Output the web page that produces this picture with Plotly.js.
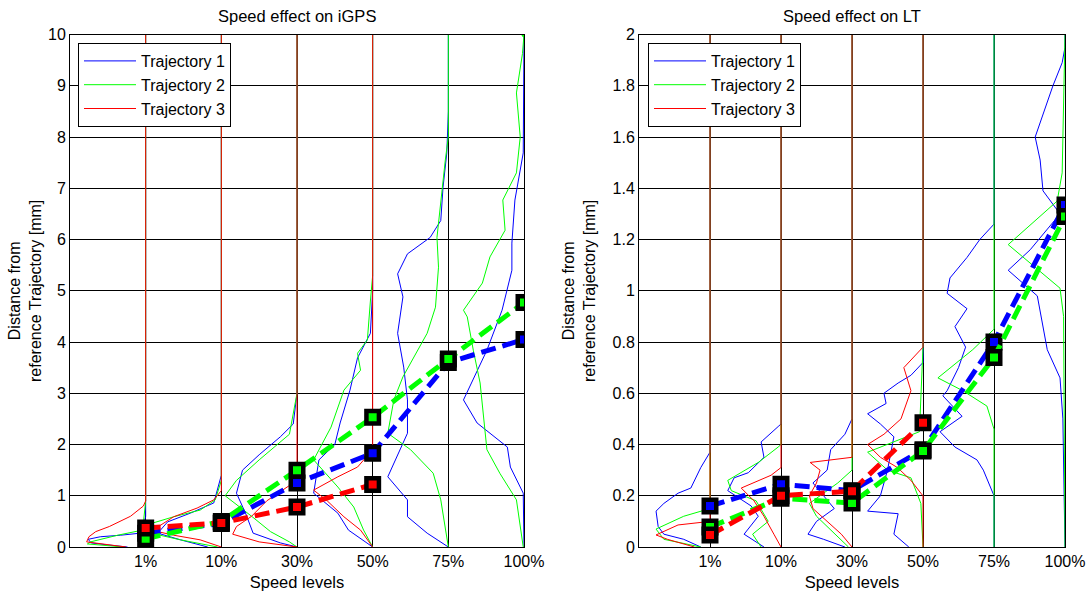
<!DOCTYPE html>
<html><head><meta charset="utf-8">
<script src="https://cdn.plot.ly/plotly-3.0.1.min.js"></script>
<style>html,body{margin:0;padding:0;background:#fff}#chart{width:1090px;height:594px}</style>
</head><body><div id="chart"></div>
<script>
// ---------- data ----------
const speedLevels = ['1%', '10%', '30%', '50%', '75%', '100%'];
const trajectoryNames = ['Trajectory 1', 'Trajectory 2', 'Trajectory 3'];

// mean distance per speed level [mm]
const iGPS_mean_t1 = [0.27, 0.46, 1.25, 1.83, 3.60, 4.05];
const iGPS_mean_t2 = [0.16, 0.50, 1.50, 2.53, 3.67, 4.77];
const iGPS_mean_t3 = [0.37, 0.47, 0.78, 1.22];
const LT_mean_t1 = [0.16, 0.245, 0.22, 0.38, 0.80, 1.335];
const LT_mean_t2 = [0.078, 0.19, 0.172, 0.375, 0.74, 1.29];
const LT_mean_t3 = [0.047, 0.20, 0.218, 0.485];

// distance distributions: per speed level, [distance, relative frequency] pairs
const iGPS_hist_t1 = [
  [[0.6,0],[0.47,0.02],[0.27,0.07],[0.23,0.33],[0.2,0.6],[0.15,0.76],[0.08,0.72],[0.04,0.5],[0,0.24]],
  [[1.4,0],[0.86,0.1],[0.66,0.41],[0.49,0.71],[0.27,0.84],[0.14,0.54],[0,0.18]],
  [[3.0,0],[2.4,0.05],[2.15,0.22],[1.8,0.5],[1.5,0.72],[1.05,0.8],[0.66,0.68],[0.27,0.58],[0.08,0.22],[0,0]],
  [[5.0,0],[4.17,0.03],[3.69,0.2],[3.06,0.3],[2.42,0.43],[2.0,0.5],[1.7,0.71],[1.05,0.78],[0.66,0.46],[0.33,0.32],[0,0]],
  [[8.5,0],[7.69,0.02],[7.02,0.07],[6.37,0.1],[6.04,0.24],[5.72,0.54],[5.33,0.67],[4.88,0.6],[4.17,0.67],[3.51,0.59],[2.87,0.54],[2.22,0.54],[1.37,0.8],[0.92,0.54],[0.59,0.54],[0.27,0.28],[0,0]],
  [[10,0],[7.69,0.01],[6.77,0.12],[5.93,0.16],[5.4,0.16],[4.62,0.29],[3.84,0.49],[2.87,0.8],[2.42,0.62],[1.95,0.22],[1.56,0.18],[1.05,0.01],[0,0]]
];
const iGPS_hist_t2 = [
  [[0.9,0],[0.33,0.04],[0.23,0.37],[0.1,0.73],[0.06,0.77],[0,0.29]],
  [[1.3,0],[0.92,0.08],[0.72,0.28],[0.59,0.63],[0.47,0.9],[0.27,0.93],[0.14,0.54],[0,0.05]],
  [[3.0,0],[2.2,0.1],[1.7,0.5],[1.3,0.8],[1.0,0.95],[0.6,0.6],[0.3,0.35],[0.1,0.1],[0,0]],
  [[5.3,0],[4.8,0.03],[4.04,0.07],[3.78,0.2],[3.45,0.16],[3.06,0.38],[2.34,0.55],[1.7,0.78],[1.17,0.46],[0.78,0.25],[0.33,0.12],[0,0]],
  [[8,0],[7.55,0.04],[7.16,0.07],[6.04,0.15],[5.46,0.13],[4.68,0.17],[4.17,0.28],[3.32,0.6],[2.87,0.72],[2.22,0.8],[1.9,0.5],[1.44,0.2],[0.92,0.1],[0,0]],
  [[10,0],[9.63,0.02],[8.86,0.1],[8.0,0.05],[7.3,0.1],[6.77,0.28],[6.18,0.25],[5.66,0.45],[5.15,0.55],[4.62,0.8],[4.49,0.75],[3.84,0.67],[3.2,0.58],[1.9,0.49],[1.44,0.32],[0.92,0.1],[0,0.01]]
];
const iGPS_hist_t3 = [
  [[0.9,0],[0.8,0.03],[0.6,0.2],[0.4,0.48],[0.3,0.66],[0.2,0.75],[0.1,0.78],[0,0.26]],
  [[1.1,0],[0.92,0.1],[0.76,0.32],[0.59,0.63],[0.39,0.84],[0.33,0.93],[0.23,0.63],[0.14,0.28],[0,0]],
  [[1.6,0],[1.2,0.1],[0.9,0.4],[0.6,0.6],[0.4,0.8],[0.25,0.85],[0.1,0.5],[0,0]],
  [[1.9,0],[1.56,0.2],[1.37,0.46],[1.11,0.78],[0.9,0.6],[0.59,0.38],[0.33,0.16],[0,0]]
];
const LT_hist_t1 = [
  [[0.37,0],[0.31,0.13],[0.23,0.27],[0.21,0.45],[0.17,0.65],[0.14,0.76],[0.08,0.73],[0.05,0.65],[0.03,0.37],[0,0.13]],
  [[0.48,0],[0.47,0.04],[0.41,0.28],[0.35,0.24],[0.29,0.46],[0.27,0.66],[0.22,0.75],[0.16,0.42],[0.12,0.32],[0.05,0.52],[0,0.24]],
  [[0.5,0],[0.44,0.1],[0.38,0.3],[0.3,0.35],[0.25,0.55],[0.2,0.4],[0.15,0.25],[0.1,0.5],[0.05,0.62],[0.03,0.4],[0,0.1]],
  [[0.72,0],[0.67,0.17],[0.64,0.35],[0.6,0.55],[0.56,0.52],[0.52,0.78],[0.48,0.6],[0.43,0.41],[0.3,0.5],[0.2,0.6],[0.14,0.78],[0.13,0.35],[0.05,0.41],[0,0.2]],
  [[1.26,0],[1.2,0.2],[1.13,0.38],[1.05,0.62],[0.99,0.66],[0.93,0.38],[0.86,0.55],[0.78,0.4],[0.7,0.5],[0.61,0.66],[0.59,0.72],[0.51,0.45],[0.45,0.76],[0.39,0.55],[0.34,0.24],[0.3,0.15],[0.2,0],[0,0]],
  [[1.95,0],[1.89,0.04],[1.8,0.17],[1.6,0.42],[1.51,0.35],[1.39,0.31],[1.3,0.07],[1.16,0.49],[1.08,0.8],[0.98,0.39],[0.77,0.25],[0.66,0.07],[0.5,0.03],[0,0]]
];
const LT_hist_t2 = [
  [[0.15,0],[0.12,0.37],[0.07,0.76],[0.03,0.65],[0,0.13]],
  [[0.4,0],[0.39,0.04],[0.33,0.32],[0.26,0.75],[0.22,0.7],[0.18,0.35],[0.1,0.18],[0.05,0.4],[0,0.28]],
  [[0.3,0],[0.25,0.2],[0.2,0.45],[0.17,0.6],[0.12,0.5],[0.08,0.35],[0.04,0.2],[0,0.05]],
  [[0.78,0],[0.45,0.05],[0.37,0.78],[0.3,0.5],[0.27,0.17],[0.17,0.03],[0,0]],
  [[0.85,0],[0.77,0.3],[0.66,0.79],[0.61,0.44],[0.55,0.1],[0.46,0],[0,0]],
  [[1.46,0.04],[1.35,0.11],[1.18,0.8],[1.01,0.07],[0.9,0.02],[0,0]]
];
const LT_hist_t3 = [
  [[0.1,0],[0.086,0.45],[0.047,0.76],[0.03,0.6],[0,0.22]],
  [[0.31,0],[0.28,0.14],[0.23,0.56],[0.18,0.38],[0.12,0.24],[0.05,0.1],[0,0]],
  [[0.35,0],[0.33,0.59],[0.3,0.45],[0.25,0.5],[0.2,0.6],[0.15,0.55],[0.1,0.35],[0.05,0.15],[0,0]],
  [[0.78,0],[0.7,0.27],[0.61,0.17],[0.5,0.31],[0.44,0.55],[0.4,0.78],[0.35,0.6],[0.31,0.36],[0.26,0.17],[0.21,0.03],[0.2,0],[0,0]]
];

// ---------- styling ----------
const COLORS = ['#0000ff', '#00ff00', '#ff0000'];
const FONT = 'Liberation Sans, Arial, Helvetica, sans-serif';

const traces = [];
function addPanel(hists, means, xa, ya, yTop, legendId) {
  hists.forEach((levels, t) => {
    levels.forEach((curve, li) => {
      const pts = [[yTop, 0]].concat(curve);
      traces.push({
        type: 'scatter', mode: 'lines', xaxis: xa, yaxis: ya,
        x: pts.map(p => (li + 1) - p[1]),
        y: pts.map(p => p[0]),
        line: {color: COLORS[t], width: 1},
        name: trajectoryNames[t], legend: legendId,
        showlegend: li === 0, hoverinfo: 'skip'
      });
    });
  });
  means.forEach((m, t) => {
    traces.push({
      type: 'scatter', mode: 'lines+markers', xaxis: xa, yaxis: ya,
      x: m.map((v, i) => i + 1), y: m,
      line: {color: COLORS[t], width: 5, dash: '15px,7px'},
      marker: {symbol: 'square', size: 12.5, color: COLORS[t], line: {color: '#000', width: 4.5}},
      showlegend: false, legend: legendId
    });
  });
}
addPanel([iGPS_hist_t1, iGPS_hist_t2, iGPS_hist_t3], [iGPS_mean_t1, iGPS_mean_t2, iGPS_mean_t3], 'x', 'y', 10, 'legend');
addPanel([LT_hist_t1, LT_hist_t2, LT_hist_t3], [LT_mean_t1, LT_mean_t2, LT_mean_t3], 'x2', 'y2', 2, 'legend2');
// end point marker at the top of trajectory 2 at 100% (iGPS)
traces.push({type:'scatter', mode:'markers', xaxis:'x', yaxis:'y', x:[speedLevels.length], y:[10],
  marker:{color:COLORS[1], size:5}, showlegend:false, hoverinfo:'skip'});

const W = 1090, H = 594;
function axX(domain) {
  return {
    domain: domain, range: [0, 6], tickmode: 'array',
    tickvals: speedLevels.map((s, i) => i + 1), ticktext: speedLevels,
    showgrid: true, gridcolor: '#000', gridwidth: 1, zeroline: false,
    showline: true, linecolor: '#000', linewidth: 1, mirror: true,
    ticks: '', tickfont: {family: FONT, size: 16, color: '#000'},
    title: {text: 'Speed levels', font: {family: FONT, size: 16.5, color: '#000'}, standoff: 7},
    fixedrange: true
  };
}
function axY(range, dtick) {
  return {
    domain: [1 - 547 / H, 1 - 34.5 / H], range: range, dtick: dtick,
    showgrid: true, gridcolor: '#000', gridwidth: 1, zeroline: false,
    showline: true, linecolor: '#000', linewidth: 1, mirror: true,
    ticks: '', tickfont: {family: FONT, size: 16, color: '#000'},
    fixedrange: true
  };
}
const legendStyle = {
  bgcolor: '#fff', bordercolor: '#000', borderwidth: 1,
  font: {family: FONT, size: 16, color: '#000'},
  xanchor: 'left', yanchor: 'top', y: 1 - 43 / H, tracegroupgap: 0,
  itemwidth: 52
};
const ytitle = 'Distance from<br>reference Trajectory [mm]';
const layout = {
  width: W, height: H, margin: {l: 0, r: 0, t: 0, b: 0},
  paper_bgcolor: '#fff', plot_bgcolor: '#fff',
  font: {family: FONT, size: 16, color: '#000'},
  xaxis: axX([70 / W, 524 / W]), yaxis: axY([0, 10], 1),
  xaxis2: Object.assign(axX([639 / W, 1065 / W]), {anchor: 'y2'}),
  yaxis2: Object.assign(axY([0, 2], 0.2), {anchor: 'x2'}),
  legend: Object.assign({x: 78 / W}, legendStyle),
  legend2: Object.assign({x: 648 / W}, legendStyle),
  annotations: [
    {text: 'Speed effect on iGPS', xref: 'paper', yref: 'paper', x: 297 / W, y: 1 - 16 / H, showarrow: false, xanchor: 'center', yanchor: 'middle', font: {family: FONT, size: 16.5}},
    {text: 'Speed effect on LT', xref: 'paper', yref: 'paper', x: 852 / W, y: 1 - 16 / H, showarrow: false, xanchor: 'center', yanchor: 'middle', font: {family: FONT, size: 16.5}},
    {text: ytitle, xref: 'paper', yref: 'paper', x: 25 / W, y: 1 - 291 / H, textangle: -90, showarrow: false, xanchor: 'center', yanchor: 'middle', font: {family: FONT, size: 16}},
    {text: ytitle, xref: 'paper', yref: 'paper', x: 579 / W, y: 1 - 291 / H, textangle: -90, showarrow: false, xanchor: 'center', yanchor: 'middle', font: {family: FONT, size: 16}}
  ],
  showlegend: true
};
Plotly.newPlot('chart', traces, layout, {displayModeBar: false, staticPlot: true});
</script></body></html>
